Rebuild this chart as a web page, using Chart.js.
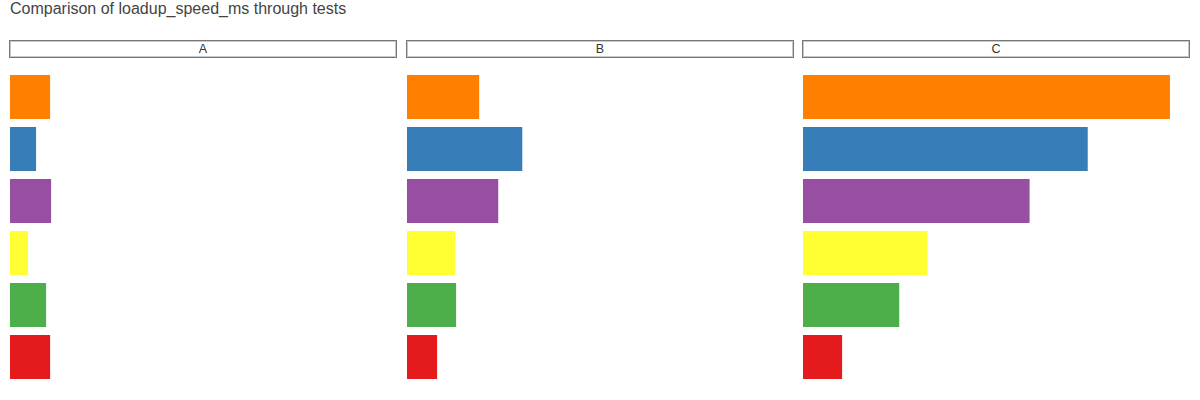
<!DOCTYPE html>
<html>
<head>
<meta charset="utf-8">
<script src="https://cdn.jsdelivr.net/npm/chart.js@4/dist/chart.umd.min.js"></script>
<style>
  body { margin: 0; background: #fff; font-family: "Liberation Sans", Arial, sans-serif; }
  .title { position: absolute; left: 10px; top: 0px; font-size: 16px; color: #444; }
  .strip { position: absolute; top: 40px; height: 16px; border: 1px solid #777; box-shadow: inset 0 0 0 1px #c8c8c8;
           font-size: 12.5px; line-height: 16px; text-align: center; color: #333; box-sizing: content-box; }
  canvas { position: absolute; top: 71px; }
</style>
</head>
<body>
<div class="title">Comparison of loadup_speed_ms through tests</div>
<div id="wrap"></div>
<script>
"use strict";
// data ----------------
const panels = ["A", "B", "C"];
const tests = ["test_1", "test_2", "test_3", "test_4", "test_5", "test_6"];
const colors = ["#FF7F00", "#377EB8", "#984EA3", "#FFFF33", "#4DAF4A", "#E41A1C"];
const valuesA = [410, 270, 420, 190, 370, 410];
const valuesB = [730, 1160, 920, 490, 500, 310];
const valuesC = [3670, 2850, 2270, 1250, 970, 400];
const panelValues = [valuesA, valuesB, valuesC];
const xMax = 3870;

// layout --------------
const stripLefts = [9, 406, 802];
const panelWidth = 388;
const wrap = document.getElementById("wrap");

panels.forEach(function (name, i) {
  const strip = document.createElement("div");
  strip.className = "strip";
  strip.style.left = stripLefts[i] + "px";
  strip.style.width = (panelWidth - 2) + "px";
  strip.textContent = name;
  wrap.appendChild(strip);

  const cv = document.createElement("canvas");
  cv.width = panelWidth;
  cv.height = 312;
  cv.style.left = (stripLefts[i] + 1) + "px";
  wrap.appendChild(cv);

  new Chart(cv.getContext("2d"), {
    type: "bar",
    data: {
      labels: tests,
      datasets: [
        {
          label: name,
          data: panelValues[i],
          backgroundColor: colors,
          borderColor: "rgba(255,255,255,0.55)",
          borderWidth: 1,
          categoryPercentage: 1,
          barPercentage: 0.885,
        },
      ],
    },
    options: {
      indexAxis: "y",
      responsive: false,
      animation: false,
      layout: { padding: 0 },
      plugins: { legend: { display: false }, tooltip: { enabled: false } },
      scales: {
        x: { display: false, min: 0, max: xMax },
        y: { display: false },
      },
    },
  });
});
</script>
</body>
</html>
